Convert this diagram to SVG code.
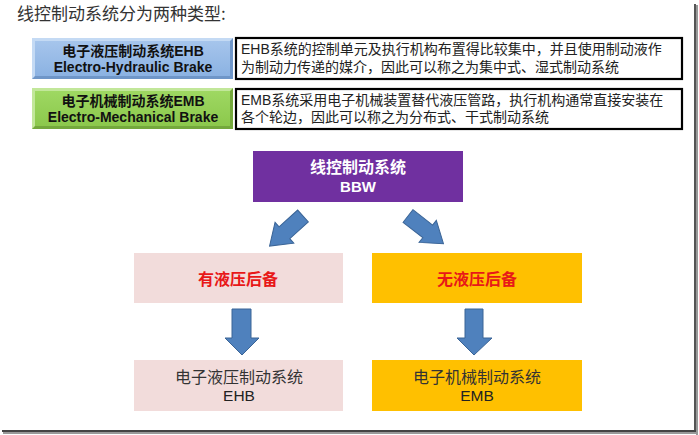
<svg xmlns="http://www.w3.org/2000/svg" width="699" height="435" viewBox="0 0 699 435">
<defs>
<style>
.cjk{font-family:"Noto Sans CJK SC","Liberation Sans",sans-serif;}
.lat{font-family:"Liberation Sans","Noto Sans CJK SC",sans-serif;}
.lbl{font-size:14px;font-weight:bold;fill:#111;text-anchor:middle;}
.desc{font-size:14px;fill:#222;}
.wbox{fill:#fff;stroke:#000;stroke-width:2.2;}
.arrow{fill:#4F81BD;stroke:#3A6496;stroke-width:1;}
.mid{text-anchor:middle;}
</style>
<linearGradient id="gBlue" x1="0" y1="0" x2="0" y2="1">
<stop offset="0" stop-color="#A6C5EC"/><stop offset="1" stop-color="#8BB2E2"/>
</linearGradient>
<linearGradient id="gGreen" x1="0" y1="0" x2="0" y2="1">
<stop offset="0" stop-color="#9ED862"/><stop offset="1" stop-color="#8CC84C"/>
</linearGradient>
<polygon id="blk" points="0,-8 25,-8 25,-14 45,0 25,14 25,8 0,8"/>
</defs>
<rect width="699" height="435" fill="#fff"/>
<!-- frame shadow -->
<rect x="694" y="4" width="2" height="429" fill="#555"/>
<rect x="696" y="5" width="2" height="430" fill="#999"/>
<rect x="2" y="430" width="694" height="2" fill="#444"/>
<rect x="3" y="432" width="695" height="2" fill="#999"/>

<text id="title" class="cjk" x="17" y="20" font-size="17" fill="#333">线控制动系统分为两种类型:</text>

<g id="ehb-label">
<rect x="32" y="38" width="201" height="41" fill="#6F96C8"/>
<polygon points="32,38 233,38 230,41 35,41 35,76 32,79" fill="#C4DAF4"/>
<rect x="35" y="41" width="195" height="35" fill="url(#gBlue)"/>
<text class="lat lbl" x="133" y="56">电子液压制动系统EHB</text>
<text class="lat lbl" x="133" y="72">Electro-Hydraulic Brake</text>
</g>
<g id="ehb-desc">
<rect class="wbox" x="236" y="38" width="446" height="41"/>
<text class="lat desc" x="241" y="54">EHB系统的控制单元及执行机构布置得比较集中，并且使用制动液作</text>
<text class="lat desc" x="241" y="72">为制动力传递的媒介，因此可以称之为集中式、湿式制动系统</text>
</g>

<g id="emb-label">
<rect x="32" y="88" width="201" height="41" fill="#74A83C"/>
<polygon points="32,88 233,88 230,91 35,91 35,126 32,129" fill="#C2E79A"/>
<rect x="35" y="91" width="195" height="35" fill="url(#gGreen)"/>
<text class="lat lbl" x="133" y="106">电子机械制动系统EMB</text>
<text class="lat lbl" x="133" y="122">Electro-Mechanical Brake</text>
</g>
<g id="emb-desc">
<rect class="wbox" x="236" y="89" width="446" height="40"/>
<text class="lat desc" x="241" y="105">EMB系统采用电子机械装置替代液压管路，执行机构通常直接安装在</text>
<text class="lat desc" x="241" y="122">各个轮边，因此可以称之为分布式、干式制动系统</text>
</g>

<g id="bbw">
<rect x="253" y="151" width="210" height="51" fill="#7030A0"/>
<text class="cjk mid" x="358" y="173" font-size="16" font-weight="bold" fill="#fff">线控制动系统</text>
<text class="lat mid" x="358" y="192" font-size="15" font-weight="bold" fill="#fff">BBW</text>
</g>

<g id="hyd-backup">
<rect x="134" y="253" width="209" height="50" fill="#F2DCDB"/>
<text class="cjk mid" x="238" y="285" font-size="16" font-weight="bold" fill="#E81818">有液压后备</text>
</g>
<g id="no-hyd-backup">
<rect x="372" y="253" width="210" height="50" fill="#FFC000"/>
<text class="cjk mid" x="477" y="285" font-size="16" font-weight="bold" fill="#E81818">无液压后备</text>
</g>

<g id="ehb">
<rect x="134" y="360" width="209" height="51" fill="#F2DCDB"/>
<text class="cjk mid" x="239" y="383" font-size="16" fill="#333">电子液压制动系统</text>
<text class="lat mid" x="239" y="401" font-size="15.5" fill="#222">EHB</text>
</g>
<g id="emb">
<rect x="372" y="360" width="210" height="51" fill="#FFC000"/>
<text class="cjk mid" x="477" y="383" font-size="16" fill="#333">电子机械制动系统</text>
<text class="lat mid" x="477" y="401" font-size="15.5" fill="#222">EMB</text>
</g>

<g id="connectors">
<use href="#blk" class="arrow" transform="translate(303,216) rotate(138)"/>
<use href="#blk" class="arrow" transform="translate(408,216) rotate(38)"/>
<polygon class="arrow" points="232,309 251,309 251,338 259,338 242,355 225,338 232,338"/>
<polygon class="arrow" points="465,309 483,309 483,338 492,338 474,355 457,338 465,338"/>
</g>
</svg>
